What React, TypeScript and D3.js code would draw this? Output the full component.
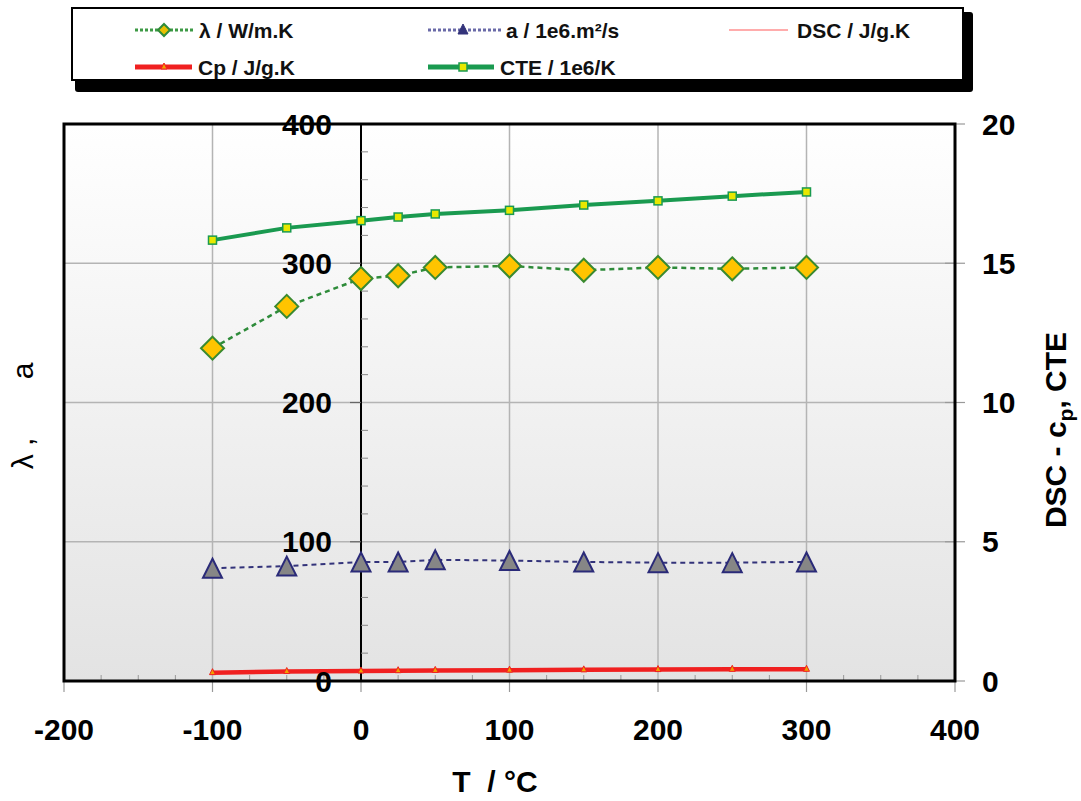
import React from "react";
import * as d3 from "d3";

// temperatures (°C)
const temps = [-100, -50, 0, 25, 50, 100, 150, 200, 250, 300];
// left axis series
const lambdaVals = [239, 269, 289, 291, 297, 298, 295, 297, 296, 297];
const aVals = [81, 82.5, 85.5, 85.5, 87, 86.5, 85.5, 85, 85, 85.5];
// right axis series
const cpVals = [0.3, 0.34, 0.36, 0.37, 0.38, 0.39, 0.4, 0.41, 0.42, 0.42];
const cteVals = [15.83, 16.27, 16.53, 16.66, 16.77, 16.9, 17.09, 17.24, 17.41, 17.56];

const xTicks = [-200, -100, 0, 100, 200, 300, 400];
const yLeftTicks = [0, 100, 200, 300, 400];
const yRightTicks = [0, 5, 10, 15, 20];

const W = 1081;
const H = 801;
const margin = { top: 124, right: 126, bottom: 120, left: 64 };
const plotW = W - margin.left - margin.right;
const plotH = H - margin.top - margin.bottom;

const fontBold = "Liberation Sans, Arial, sans-serif";

export default function App() {
  const x = d3.scaleLinear().domain([-200, 400]).range([0, plotW]);
  const yL = d3.scaleLinear().domain([0, 400]).range([plotH, 0]);
  const yR = d3.scaleLinear().domain([0, 20]).range([plotH, 0]);

  const lineL = d3
    .line<number>()
    .x((_, i) => x(temps[i]))
    .y((d) => yL(d));
  const lineR = d3
    .line<number>()
    .x((_, i) => x(temps[i]))
    .y((d) => yR(d));

  const minorX = d3.range(-175, 400, 25).filter((t) => t % 100 !== 0);
  const minorY = d3.range(20, 400, 20).filter((v) => v % 100 !== 0);

  const diamond = (cx: number, cy: number, r: number) =>
    `M${cx},${cy - r}L${cx + r},${cy}L${cx},${cy + r}L${cx - r},${cy}Z`;
  const triangle = (cx: number, cy: number, r: number) =>
    `M${cx},${cy - r}L${cx + r},${cy + r}L${cx - r},${cy + r}Z`;

  return (
    <svg width={W} height={H} style={{ display: "block", position: "absolute", left: 0, top: 0 }}>
      <defs>
        <linearGradient id="bg" x1="0" y1="0" x2="0" y2="1">
          <stop offset="0%" stopColor="#ffffff" />
          <stop offset="100%" stopColor="#e3e3e3" />
        </linearGradient>
      </defs>
      <rect width={W} height={H} fill="#fff" />

      {/* legend */}
      <rect x={75} y={12} width={898} height={80} fill="#000" rx={3} />
      <rect x={72} y={8} width={891} height={72} fill="#fff" stroke="#000" strokeWidth={2} />
      <g fontFamily={fontBold} fontWeight="bold" fontSize={21} fill="#111">
        {/* lambda */}
        <line x1={135} x2={193} y1={30} y2={30} stroke="#3d9a45" strokeWidth={3} strokeDasharray="3,2" />
        <path d={diamond(164, 30, 6)} fill="#e8c000" stroke="#2e8b3a" strokeWidth={2} />
        <text x={199} y={30} dominantBaseline="central">λ / W/m.K</text>
        {/* a */}
        <line x1={428} x2={503} y1={30} y2={30} stroke="#6a6aa8" strokeWidth={3} strokeDasharray="3,2" />
        <path d={triangle(463, 29, 5)} fill="#33337a" stroke="#33337a" strokeWidth={1} />
        <text x={506} y={30} dominantBaseline="central">a / 1e6.m²/s</text>
        {/* DSC */}
        <line x1={729} x2={788} y1={30} y2={30} stroke="#ff9090" strokeWidth={1.5} />
        <text x={797} y={30} dominantBaseline="central">DSC / J/g.K</text>
        {/* Cp */}
        <line x1={135} x2={192} y1={67} y2={67} stroke="#f02020" strokeWidth={5} />
        <path d={triangle(164, 66, 3)} fill="#f0a000" stroke="#f02020" strokeWidth={1} />
        <text x={198} y={67} dominantBaseline="central">Cp / J/g.K</text>
        {/* CTE */}
        <line x1={428} x2={494} y1={67} y2={67} stroke="#1a9a50" strokeWidth={5} />
        <rect x={459} y={63} width={8} height={8} fill="#e8e800" stroke="#1a9a50" strokeWidth={1.5} />
        <text x={500} y={67} dominantBaseline="central">CTE / 1e6/K</text>
      </g>

      <g transform={`translate(${margin.left},${margin.top})`}>
        <rect width={plotW} height={plotH} fill="url(#bg)" />

        {/* grid */}
        {xTicks.slice(1, -1).map((t) => (
          <line key={"gx" + t} x1={x(t)} x2={x(t)} y1={0} y2={plotH} stroke="#b4b4b4" strokeWidth={1.5} />
        ))}
        {yLeftTicks.slice(1, -1).map((v) => (
          <line key={"gy" + v} x1={0} x2={plotW} y1={yL(v)} y2={yL(v)} stroke="#b4b4b4" strokeWidth={1.5} />
        ))}

        {/* minor x ticks */}
        {minorX.map((t) => (
          <line key={"mx" + t} x1={x(t)} x2={x(t)} y1={plotH} y2={plotH - 6} stroke="#999" strokeWidth={1} />
        ))}
        {/* major x ticks below */}
        {xTicks.map((t) => (
          <line key={"tx" + t} x1={x(t)} x2={x(t)} y1={plotH} y2={plotH + 11} stroke="#999" strokeWidth={1.2} />
        ))}

        {/* y axis at T = 0 */}
        <line x1={x(0)} x2={x(0)} y1={0} y2={plotH} stroke="#000" strokeWidth={2} />
        {minorY.map((v) => (
          <line key={"my" + v} x1={x(0)} x2={x(0) + 7} y1={yL(v)} y2={yL(v)} stroke="#888" strokeWidth={1} />
        ))}
        {yLeftTicks.map((v) => (
          <line key={"ty" + v} x1={x(0) - 11} x2={x(0)} y1={yL(v)} y2={yL(v)} stroke="#666" strokeWidth={1.2} />
        ))}

        {/* right axis ticks */}
        {yRightTicks.map((v) => (
          <line key={"tr" + v} x1={plotW - 10} x2={plotW + 10} y1={yR(v)} y2={yR(v)} stroke="#999" strokeWidth={1.2} />
        ))}

        {/* series: Cp */}
        <path d={lineR(cpVals) || ""} fill="none" stroke="#f02020" strokeWidth={4.5} />
        {cpVals.map((v, i) => (
          <path key={"cp" + i} d={triangle(x(temps[i]), yR(v) - 1, 3)} fill="#f0a000" stroke="#f02020" strokeWidth={1} />
        ))}

        {/* series: a */}
        <path d={lineL(aVals) || ""} fill="none" stroke="#33337a" strokeWidth={2} strokeDasharray="5,4" />
        {aVals.map((v, i) => (
          <path key={"a" + i} d={triangle(x(temps[i]), yL(v), 9.5)} fill="#868686" stroke="#2a2a78" strokeWidth={2} />
        ))}

        {/* series: lambda */}
        <path d={lineL(lambdaVals) || ""} fill="none" stroke="#2e8b3a" strokeWidth={2.5} strokeDasharray="5,4" />
        {lambdaVals.map((v, i) => (
          <path key={"l" + i} d={diamond(x(temps[i]), yL(v), 11.5)} fill="#ffc400" stroke="#3a8a30" strokeWidth={2} />
        ))}

        {/* series: CTE */}
        <path d={lineR(cteVals) || ""} fill="none" stroke="#1a9a50" strokeWidth={4} />
        {cteVals.map((v, i) => (
          <rect key={"c" + i} x={x(temps[i]) - 4} y={yR(v) - 4} width={8} height={8} fill="#e8e800" stroke="#1a9a50" strokeWidth={1.5} />
        ))}

        {/* frame */}
        <rect width={plotW} height={plotH} fill="none" stroke="#000" strokeWidth={3} />

        {/* tick labels */}
        <g fontFamily={fontBold} fontWeight="bold" fontSize={30} fill="#000">
          {xTicks.map((t) => (
            <text key={"lx" + t} x={x(t)} y={plotH + 59} textAnchor="middle">
              {t}
            </text>
          ))}
          {yLeftTicks.map((v) => (
            <text key={"ly" + v} x={x(0) - 29} y={yL(v)} textAnchor="end" dominantBaseline="central">
              {v}
            </text>
          ))}
          {yRightTicks.map((v) => (
            <text key={"lr" + v} x={plotW + 27} y={yR(v)} dominantBaseline="central">
              {v}
            </text>
          ))}
        </g>
      </g>

      {/* axis titles */}
      <text x={495} y={792} textAnchor="middle" fontFamily={fontBold} fontWeight="bold" fontSize={30} style={{ whiteSpace: "pre" }}>
        {"T  / °C"}
      </text>
      <text
        transform="translate(33,416) rotate(-90)"
        textAnchor="middle"
        fontFamily={fontBold}
        fontSize={30}
        style={{ whiteSpace: "pre" }}
      >
        {"λ ,       a"}
      </text>
      <text
        transform="translate(1066,430) rotate(-90)"
        textAnchor="middle"
        fontFamily={fontBold}
        fontWeight="bold"
        fontSize={30}
      >
        DSC - c<tspan fontSize={21} dy={7}>p</tspan>
        <tspan dy={-7}>, CTE</tspan>
      </text>
    </svg>
  );
}
